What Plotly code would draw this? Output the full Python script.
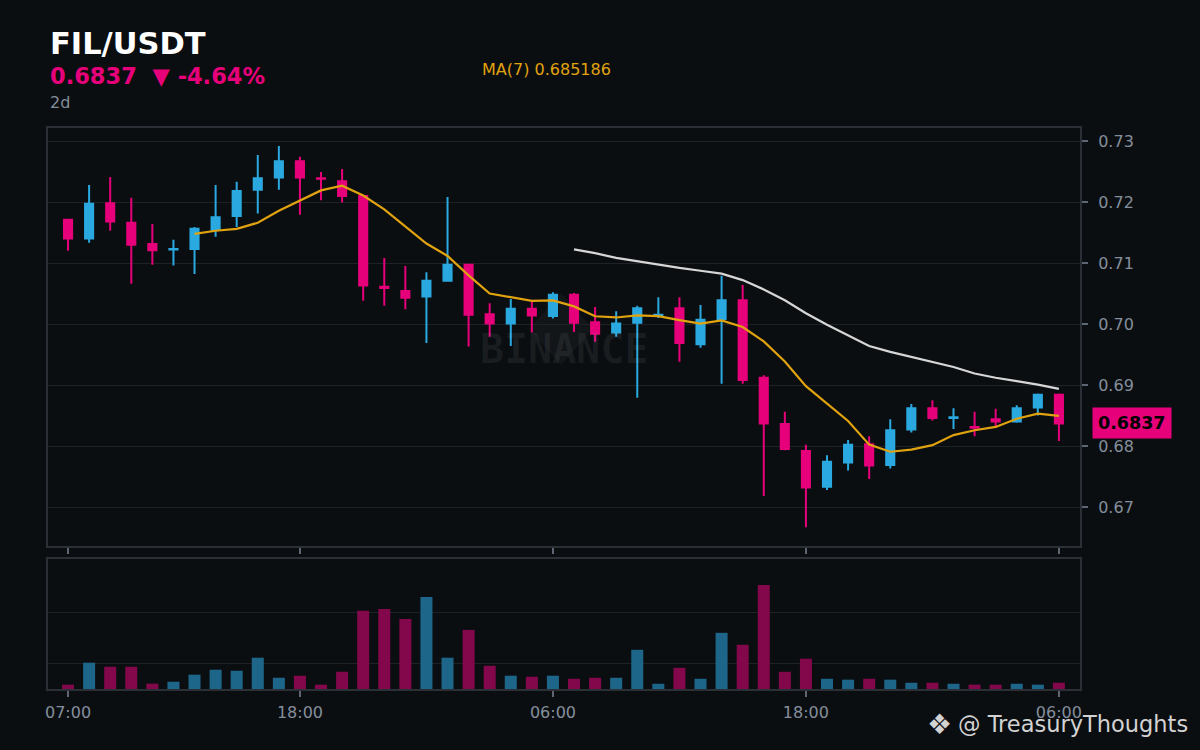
#!/usr/bin/env python3
"""
FIL/USDT 1h candles with MA(7) / MA(25) and volume, dark exchange style
"""

import pandas as pd
import plotly.graph_objects as go
from plotly.subplots import make_subplots

# hourly candles, 07:00 -> 06:00 (two days later)
start_time = "2025-01-01 07:00"

opens = [0.7171, 0.7140, 0.7198, 0.7166, 0.7131, 0.7122, 0.7123, 0.7154, 0.7177, 0.7220,
         0.7240, 0.7267, 0.7239, 0.7234, 0.7210, 0.7061, 0.7054, 0.7045, 0.7071, 0.7097,
         0.7016, 0.7001, 0.7025, 0.7013, 0.7048, 0.7003, 0.6986, 0.7002, 0.7014, 0.7026,
         0.6967, 0.7008, 0.7039, 0.6912, 0.6836, 0.6792, 0.6733, 0.6773, 0.6803, 0.6769,
         0.6827, 0.6862, 0.6846, 0.6831, 0.6844, 0.6840, 0.6863, 0.6884]
highs = [0.7172, 0.7228, 0.7241, 0.7207, 0.7164, 0.7138, 0.7159, 0.7228, 0.7233, 0.7277,
         0.7292, 0.7274, 0.7249, 0.7254, 0.7211, 0.7108, 0.7095, 0.7085, 0.7208, 0.7098,
         0.7034, 0.7041, 0.7037, 0.7052, 0.7051, 0.7028, 0.7021, 0.7030, 0.7044, 0.7044,
         0.7031, 0.7079, 0.7064, 0.6916, 0.6856, 0.6802, 0.6785, 0.6810, 0.6816, 0.6844,
         0.6869, 0.6875, 0.6862, 0.6856, 0.6861, 0.6867, 0.6886, 0.6886]
lows = [0.7120, 0.7133, 0.7153, 0.7066, 0.7097, 0.7096, 0.7082, 0.7143, 0.7159, 0.7181,
        0.7220, 0.7179, 0.7203, 0.7199, 0.7038, 0.7030, 0.7024, 0.6969, 0.7070, 0.6963,
        0.6979, 0.6964, 0.6986, 0.7009, 0.6987, 0.6971, 0.6979, 0.6879, 0.7010, 0.6938,
        0.6961, 0.6902, 0.6902, 0.6718, 0.6793, 0.6667, 0.6728, 0.6760, 0.6746, 0.6763,
        0.6822, 0.6842, 0.6828, 0.6816, 0.6830, 0.6838, 0.6850, 0.6808]
closes = [0.7140, 0.7197, 0.7168, 0.7130, 0.7121, 0.7123, 0.7156, 0.7175, 0.7218, 0.7239,
          0.7267, 0.7240, 0.7238, 0.7210, 0.7063, 0.7059, 0.7043, 0.7071, 0.7097, 0.7015,
          0.7001, 0.7025, 0.7014, 0.7048, 0.7002, 0.6984, 0.7001, 0.7026, 0.7015, 0.6969,
          0.7007, 0.7039, 0.6908, 0.6837, 0.6795, 0.6732, 0.6774, 0.6802, 0.6768, 0.6826,
          0.6862, 0.6846, 0.6847, 0.6830, 0.6840, 0.6862, 0.6884, 0.6837]
# volume, thousand FIL
volumes = [170, 1030, 870, 870, 210, 285, 560, 755, 715, 1225,
           440, 520, 170, 675, 3060, 3135, 2745, 3605, 1225, 2315,
           910, 520, 480, 520, 400, 440, 440, 1535, 205, 830,
           400, 2200, 1730, 4075, 675, 1185, 400, 365, 400, 365,
           245, 245, 205, 170, 170, 205, 170, 245]

tick_idx = [0, 11, 23, 35, 47]
tick_labels = ["07:00", "18:00", "06:00", "18:00", "06:00"]
price_ticks = [0.67, 0.68, 0.69, 0.70, 0.71, 0.72, 0.73]
vol_ticks = [1000, 3000]

pair = "FIL/USDT"
change_pct = -4.64
interval = "2d"
ma7_last = 0.685186

UP = "#2aa9e0"
DOWN = "#e6007a"
UP_VOL = "#1d6689"
DOWN_VOL = "#83074b"
BG = "#0b0e11"
GRID = "#1e2226"
BORDER = "#2b2f36"
TXT = "#848e9c"
MA7_COL = "#e0a30f"
MA25_COL = "#d6d6d6"


def main():
    times = pd.date_range(start_time, periods=len(closes), freq="h")
    df = pd.DataFrame({"open": opens, "high": highs, "low": lows,
                       "close": closes, "volume": volumes}, index=times)
    ma7 = df["close"].rolling(7).mean()
    ma25 = df["close"].rolling(25).mean()
    last = closes[-1]

    fig = make_subplots(rows=2, cols=1, shared_xaxes=True, vertical_spacing=0.02)

    fig.add_trace(go.Candlestick(
        x=times, open=opens, high=highs, low=lows, close=closes,
        increasing=dict(line=dict(color=UP, width=2), fillcolor=UP),
        decreasing=dict(line=dict(color=DOWN, width=2), fillcolor=DOWN),
        whiskerwidth=0, hoverinfo="skip"), row=1, col=1)

    fig.add_trace(go.Scatter(x=times, y=ma25, mode="lines",
                             line=dict(color=MA25_COL, width=2.2), hoverinfo="skip"),
                  row=1, col=1)
    fig.add_trace(go.Scatter(x=times, y=ma7, mode="lines",
                             line=dict(color=MA7_COL, width=2.2), hoverinfo="skip"),
                  row=1, col=1)

    vol_colors = [UP_VOL if c >= o else DOWN_VOL for o, c in zip(opens, closes)]
    fig.add_trace(go.Bar(x=times, y=volumes, marker_color=vol_colors,
                         marker_line_width=0, hoverinfo="skip"), row=2, col=1)

    # layout: plot area spans x 48..1080, y 128..689 in a 1200x750 page
    t0 = times[0] - pd.Timedelta(minutes=57)
    t1 = times[-1] + pd.Timedelta(minutes=60)
    tickvals = [times[i] for i in tick_idx]

    fig.update_layout(
        width=1200, height=750,
        paper_bgcolor=BG, plot_bgcolor=BG,
        margin=dict(l=48, r=120, t=128, b=61),
        showlegend=False, hovermode=False,
        bargap=0.43, boxgap=0.45,
        font=dict(family="DejaVu Sans", color=TXT, size=16),
    )

    fig.update_xaxes(range=[t0, t1], tickvals=tickvals, ticktext=tick_labels,
                     showgrid=False, zeroline=False,
                     showline=True, mirror=True, linecolor=BORDER, linewidth=2,
                     ticks="outside", ticklen=6, tickwidth=2, tickcolor="#5e6673",
                     rangeslider_visible=False)
    fig.update_xaxes(showticklabels=False, row=1, col=1)
    fig.update_xaxes(showticklabels=True, tickfont=dict(size=16, color=TXT),
                     ticklabelstandoff=2, row=2, col=1)

    fig.update_yaxes(side="right", range=[0.663607, 0.732131], tickvals=price_ticks,
                     tickformat=".2f", showgrid=True, gridcolor=GRID, gridwidth=1,
                     zeroline=False, showline=True, mirror=True, linecolor=BORDER,
                     linewidth=2, ticks="outside", ticklen=6, tickwidth=2,
                     tickcolor="#5e6673", tickfont=dict(size=16, color=TXT),
                     ticklabelstandoff=7, domain=[0.2549, 1.0], row=1, col=1)
    fig.update_yaxes(side="right", range=[0, 5090], tickvals=vol_ticks,
                     showticklabels=False, showgrid=True, gridcolor=GRID,
                     zeroline=False, showline=True, mirror=True, linecolor=BORDER,
                     linewidth=2, ticks="", domain=[0.0, 0.2317], row=2, col=1)

    # faint exchange watermark behind the candles
    fig.add_shape(type="path", xref="paper", yref="paper", layer="below",
                  path="M 0.4971 0.7059 L 0.5281 0.6417 L 0.4971 0.5775 L 0.4661 0.6417 Z",
                  fillcolor="rgba(255,255,255,0.035)", line_width=0)
    fig.add_annotation(x=0.5, y=0.606, xref="paper", yref="paper", showarrow=False,
                       text="<b>BINANCE</b>",
                       font=dict(family="DejaVu Sans Mono", size=40,
                                 color="rgba(255,255,255,0.06)"))

    # header
    fig.add_annotation(x=0, y=1.1515, xref="paper", yref="paper", showarrow=False,
                       xanchor="left", yanchor="middle", text=f"<b>{pair}</b>",
                       font=dict(family="DejaVu Sans", size=30.5, color="#ffffff"))
    fig.add_annotation(x=0, y=1.0927, xref="paper", yref="paper", showarrow=False,
                       xanchor="left", yanchor="middle",
                       text=f"<b>{last:.4f}\u00a0\u00a0▼ {change_pct:.2f}%</b>",
                       font=dict(family="DejaVu Sans", size=22.5, color=DOWN))
    fig.add_annotation(x=0, y=1.0463, xref="paper", yref="paper", showarrow=False,
                       xanchor="left", yanchor="middle", text=interval,
                       font=dict(family="DejaVu Sans", size=16, color=TXT))
    fig.add_annotation(x=0.4835, y=1.1034, xref="paper", yref="paper", showarrow=False,
                       xanchor="center", yanchor="middle",
                       text=f"MA(7) {ma7_last:.6f}",
                       font=dict(family="DejaVu Sans", size=16, color=MA7_COL))

    # last price tag on the price axis
    fig.add_annotation(x=1.0116, y=last, xref="paper", yref="y", showarrow=False,
                       xanchor="left", yanchor="middle", text=f"<b>{last:.4f}</b>",
                       bgcolor=DOWN, borderpad=5,
                       font=dict(family="DejaVu Sans", size=17.5, color="#000000"))

    # signature
    fig.add_annotation(x=1.1066, y=-0.0624, xref="paper", yref="paper", showarrow=False,
                       xanchor="right", yanchor="middle", text="@ TreasuryThoughts",
                       font=dict(family="DejaVu Sans", size=22.5, color="#d2d2d2"))
    fig.add_annotation(x=0.8643, y=-0.0624, xref="paper", yref="paper", showarrow=False,
                       xanchor="center", yanchor="middle", text="❖",
                       font=dict(family="DejaVu Sans", size=28, color="#d2d2d2"))

    fig.write_html("out.html", config={"displayModeBar": False},
                   post_script="document.body.style.margin='0';"
                               "document.body.style.background='#0b0e11';")
    print("saved out.html")


if __name__ == "__main__":
    main()
